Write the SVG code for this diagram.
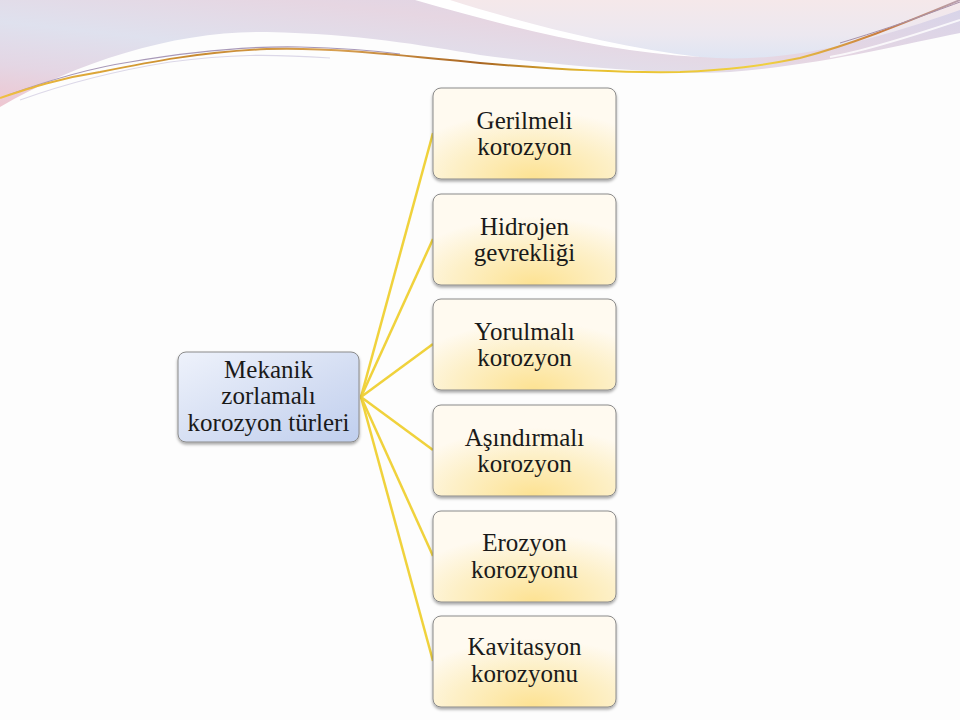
<svg xmlns="http://www.w3.org/2000/svg" width="960" height="720" viewBox="0 0 960 720">
<defs>
<linearGradient id="bgBig" x1="0" y1="1" x2="1" y2="0">
<stop offset="0" stop-color="#eec6d0"/>
<stop offset="0.2" stop-color="#e4d6e4"/>
<stop offset="0.4" stop-color="#dfe1ee"/>
<stop offset="0.65" stop-color="#e6d6e2"/>
<stop offset="1" stop-color="#d6d4ea"/>
</linearGradient>
<linearGradient id="bgUp" x1="0" y1="0" x2="0" y2="1">
<stop offset="0" stop-color="#f5e8ea"/>
<stop offset="0.6" stop-color="#ece8f0"/>
<stop offset="1" stop-color="#dfe5f3"/>
</linearGradient>
<linearGradient id="gold" x1="0" y1="0" x2="960" y2="0" gradientUnits="userSpaceOnUse">
<stop offset="0" stop-color="#f0c040"/>
<stop offset="0.2" stop-color="#c88a30"/>
<stop offset="0.35" stop-color="#d8a050"/>
<stop offset="0.5" stop-color="#a86420"/>
<stop offset="0.62" stop-color="#e8c030"/>
<stop offset="0.8" stop-color="#f0d040"/>
<stop offset="0.92" stop-color="#c87a40"/>
<stop offset="1" stop-color="#b8a0b0"/>
</linearGradient>
<linearGradient id="blue" x1="0" y1="0" x2="1" y2="1">
<stop offset="0" stop-color="#eef2fb"/>
<stop offset="0.6" stop-color="#d2dcf2"/>
<stop offset="1" stop-color="#c0cfee"/>
</linearGradient>
<radialGradient id="cream" cx="0.55" cy="1" r="0.75" fx="0.55" fy="1">
<stop offset="0" stop-color="#fde292"/>
<stop offset="0.6" stop-color="#fdf0c8"/>
<stop offset="1" stop-color="#fffaf0"/>
</radialGradient>
<filter id="sh" x="-10%" y="-10%" width="120%" height="125%">
<feDropShadow dx="0" dy="2" stdDeviation="1.5" flood-color="#000" flood-opacity="0.35"/>
</filter>
</defs>
<style>
.box{stroke:#8a8a8a;stroke-width:1;filter:url(#sh)}
.leaf{fill:url(#cream)}
.root{fill:url(#blue)}
.t{font-family:"Liberation Serif",serif;font-size:25px;fill:#1a1a1a;text-anchor:middle}
.c{stroke:#f0d23c;stroke-width:2.5;fill:none}
</style>
<rect width="960" height="720" fill="#fdfdfd"/>
<g id="background">
<path d="M0,0 H960 V33 C900,45 820,65 730,72 C680,75 580,68 480,55 C420,45 360,34 267,32 C180,30 80,60 0,107 Z" fill="url(#bgBig)"/>
<path d="M420,0 C500,22 600,46 700,57 C780,64 860,45 960,10 V0 Z" fill="url(#bgUp)"/>
<path d="M415,0 L450,0 C520,22 610,46 700,57 C610,52 520,30 415,0 Z" fill="#ffffff"/>
<path d="M960,20 C900,40 860,52 830,57" stroke="#ffffff" stroke-width="2" fill="none" opacity="0.8"/>
<path d="M8,95 C50,80 90,68 130,62 C200,50 250,46 300,47 C340,48 370,50 400,54" stroke="#a898b8" stroke-width="1.2" fill="none"/>
<path d="M0,98 C30,88 60,78 100,72 C150,62 200,52 267,49 C320,47 380,53 480,63 C560,70 620,73 680,72 C730,70 760,66 800,58 C850,45 900,25 960,0" stroke="url(#gold)" stroke-width="2" fill="none"/>
<path d="M20,100 C70,82 120,70 170,62 C230,54 270,54 330,58" stroke="#dcd8e8" stroke-width="1.2" fill="none"/>
<path d="M840,43 C890,28 925,15 960,2" stroke="#a890a8" stroke-width="1" fill="none"/>
</g>
<g id="connectors">
<line class="c" x1="361" y1="397" x2="433" y2="133"/>
<line class="c" x1="361" y1="397" x2="433" y2="239"/>
<line class="c" x1="361" y1="397" x2="433" y2="344"/>
<line class="c" x1="361" y1="397" x2="433" y2="450"/>
<line class="c" x1="361" y1="397" x2="433" y2="556"/>
<line class="c" x1="361" y1="397" x2="433" y2="661"/>
</g>
<g id="root">
<rect class="box root" x="178" y="352" width="181" height="90" rx="8"/>
<text class="t" x="268.5" y="378">Mekanik</text>
<text class="t" x="268.5" y="404">zorlamalı</text>
<text class="t" x="268.5" y="431">korozyon türleri</text>
</g>
<g id="n1">
<rect class="box leaf" x="433" y="88" width="183" height="91" rx="8"/>
<text class="t" x="524.5" y="129">Gerilmeli</text>
<text class="t" x="524.5" y="155">korozyon</text>
</g>
<g id="n2">
<rect class="box leaf" x="433" y="194" width="183" height="91" rx="8"/>
<text class="t" x="524.5" y="235">Hidrojen</text>
<text class="t" x="524.5" y="261">gevrekliği</text>
</g>
<g id="n3">
<rect class="box leaf" x="433" y="299" width="183" height="91" rx="8"/>
<text class="t" x="524.5" y="340">Yorulmalı</text>
<text class="t" x="524.5" y="366">korozyon</text>
</g>
<g id="n4">
<rect class="box leaf" x="433" y="405" width="183" height="91" rx="8"/>
<text class="t" x="524.5" y="446">Aşındırmalı</text>
<text class="t" x="524.5" y="472">korozyon</text>
</g>
<g id="n5">
<rect class="box leaf" x="433" y="511" width="183" height="91" rx="8"/>
<text class="t" x="524.5" y="551">Erozyon</text>
<text class="t" x="524.5" y="578">korozyonu</text>
</g>
<g id="n6">
<rect class="box leaf" x="433" y="616" width="183" height="91" rx="8"/>
<text class="t" x="524.5" y="655">Kavitasyon</text>
<text class="t" x="524.5" y="682">korozyonu</text>
</g>
</svg>
